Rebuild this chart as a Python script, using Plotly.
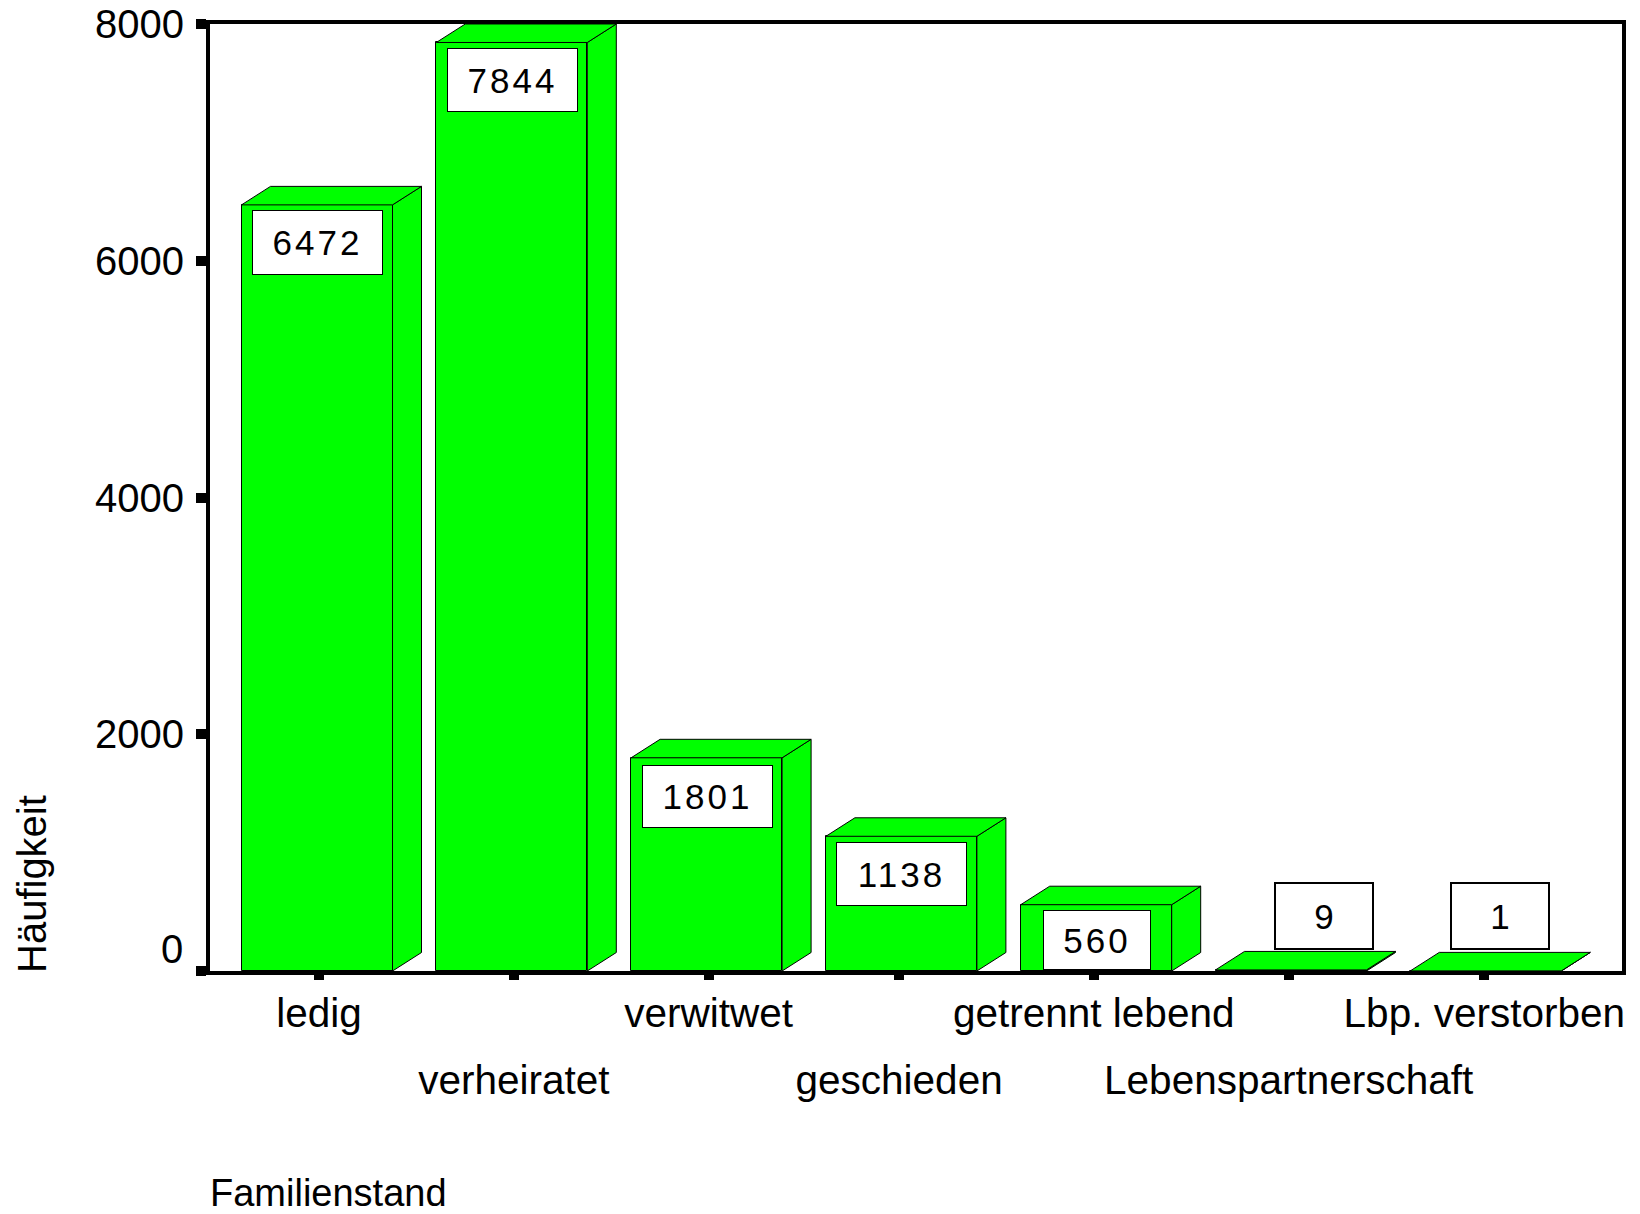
import plotly.graph_objects as go

categories = ["ledig", "verheiratet", "verwitwet", "geschieden", "getrennt lebend", "Lebenspartnerschaft", "Lbp. verstorben"]
counts = [6472, 7844, 1801, 1138, 560, 9, 1]
y_ticks = [2000, 4000, 6000, 8000]

# layout constants (pixels)
W, H = 1640, 1214
L, R, T, B = 210, 1622, 24, 971
STEP = 194.8
X0 = 317
BAR_W = 151 / STEP
DX = 29 / STEP
DY = 18.5 * 8000 / (B - T)
GREEN = "#00FF00"
FONT = "Liberation Sans, Arial, sans-serif"
TICK_NUDGE = [2, 2, 2, -2.3, -2.5, -2.3, -1.5]
BOX = [  # centre shift from the bar's top centre, size, border
    (0.5, 38, 129, 63, 1), (0.5, 38, 129, 62, 1), (0.5, 39, 129, 61, 1), (0, 38, 129, 62, 1),
    (0.5, 35, 106, 58, 1), (33, -54, 96, 64, 2), (14.5, -55, 96, 64, 2),
]

idx = list(range(len(counts)))
tick_pos = [i + n / STEP for i, n in zip(idx, TICK_NUDGE)]
xr = [(L - X0) / STEP, (R - X0) / STEP]

fig = go.Figure()
fig.add_trace(go.Bar(x=idx, y=counts, width=BAR_W, marker=dict(color=GREEN, line=dict(color="black", width=1)),
                     showlegend=False, hoverinfo="x+y"))
for i, v in zip(idx, counts):
    l, r = i - BAR_W / 2, i + BAR_W / 2
    fig.add_trace(go.Scatter(x=[r, r + DX, r + DX, r, r], y=[0, DY, v + DY, v, 0], xaxis="x2", mode="lines",
                             fill="toself", fillcolor=GREEN, line=dict(color="black", width=1), showlegend=False, hoverinfo="skip"))
    fig.add_trace(go.Scatter(x=[l, l + DX, r + DX, r, l], y=[v, v + DY, v + DY, v, v], xaxis="x2", mode="lines",
                             fill="toself", fillcolor=GREEN, line=dict(color="black", width=1), showlegend=False, hoverinfo="skip"))

ann = []
for i, v, (sx, sy, bw, bh, bd) in zip(idx, counts, BOX):
    ann.append(dict(x=i, y=v, xref="x", yref="y", text=str(v), showarrow=False, xshift=sx, yshift=-sy,
                    width=bw, height=bh, bgcolor="white", bordercolor="black", borderwidth=bd, borderpad=0,
                    align="center", valign="middle", font=dict(size=35, color="black", family=FONT)))
ann.append(dict(x=0, y=0, xref="paper", yref="y", text="0", showarrow=False, xanchor="right", yanchor="middle",
                xshift=-25, yshift=22, font=dict(size=40, color="black", family=FONT)))
ann.append(dict(x=0, y=0, xref="paper", yref="paper", text="Häufigkeit", textangle=-90, showarrow=False,
                xanchor="center", yanchor="bottom", xshift=-178, yshift=-4, font=dict(size=40, color="black", family=FONT)))
ann.append(dict(x=0, y=0, xref="paper", yref="paper", text="Familienstand", showarrow=False,
                xanchor="left", yanchor="middle", xshift=-2, yshift=-222, font=dict(size=38, color="black", family=FONT)))

fig.update_layout(
    width=W, height=H, margin=dict(l=L, r=W - R, t=T, b=H - B), plot_bgcolor="white", paper_bgcolor="white",
    showlegend=False, annotations=ann, bargap=0,
    font=dict(family=FONT, size=40, color="black"),
    xaxis=dict(range=xr, tickmode="array", tickvals=tick_pos, automargin=False,
               ticktext=[c if i % 2 == 0 else "" for i, c in enumerate(categories)],
               ticks="outside", ticklen=5, tickwidth=10, tickcolor="black", tickangle=0, ticklabelstandoff=-2,
               showline=True, linecolor="black", linewidth=4, mirror=True, showgrid=False, zeroline=False,
               tickfont=dict(size=40.5, color="black", family=FONT)),
    xaxis2=dict(range=xr, overlaying="x", side="bottom", anchor="y", tickmode="array", automargin=False,
                tickvals=[tick_pos[i] for i in idx if i % 2 == 1],
                ticktext=[categories[i] for i in idx if i % 2 == 1],
                ticks="outside", ticklen=73, tickwidth=1, tickcolor="rgba(0,0,0,0)", tickangle=0,
                showline=False, showgrid=False, zeroline=False,
                tickfont=dict(size=40.5, color="black", family=FONT)),
    yaxis=dict(range=[0, 8000], tickmode="array", tickvals=[0] + y_ticks, automargin=False,
               ticktext=[""] + [str(t) for t in y_ticks], ticklabelstandoff=4,
               ticks="outside", ticklen=10, tickwidth=10, tickcolor="black",
               showline=True, linecolor="black", linewidth=4, mirror=True, showgrid=False, zeroline=False,
               tickfont=dict(size=40, color="black", family=FONT)),
)
post = """
document.body.style.margin='0';
document.querySelectorAll('.annotation-text').forEach(function(t){
  if(/^\\d{3,}$/.test(t.textContent)){t.style.letterSpacing='3px';}
});
"""
fig.write_html("out.html", post_script=post, config={"displayModeBar": False})
